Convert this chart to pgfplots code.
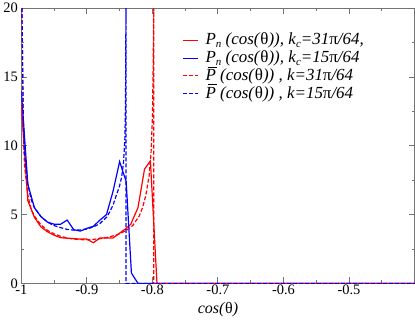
\documentclass[border=0pt]{standalone}
\usepackage{fontspec}
\setmainfont{Liberation Serif}
\usepackage{pgfplots}
\pgfplotsset{compat=1.18}
\newcommand{\sub}[1]{\raisebox{-0.45ex}{\fontsize{11}{11}\selectfont\itshape #1}}
\newcommand{\Pbar}{\makebox[0pt][l]{\hspace{0.14em}\rule[0.76em]{0.52em}{0.06em}}\textit{P}}
\begin{document}
\begin{tikzpicture}
\begin{axis}[
  scale only axis, width=393bp, height=275bp,
  xmin=-1, xmax=-0.4, ymin=0, ymax=20,
  xtick={-1,-0.9,-0.8,-0.7,-0.6,-0.5},
  xticklabels={-1,-0.9,-0.8,-0.7,-0.6,-0.5},
  minor xtick={-0.95,-0.85,-0.75,-0.65,-0.55,-0.45},
  ytick={0,5,10,15,20}, yticklabels={0,5,10,15,20},
  minor ytick={2.5,7.5,12.5,17.5},
  tick align=inside, major tick length=6bp, minor tick length=3bp,
  axis line style={black!55, line width=0.9pt}, tick style={black!55, line width=0.9pt},
  ticklabel style={font=\fontsize{14.5}{14.5}\selectfont},
  xticklabel style={yshift=2bp},
  xlabel={\textit{cos(}θ\textit{)}},
  xlabel style={font=\fontsize{16}{16}\selectfont, yshift=-1bp},
  every axis plot/.append style={line width=1.2pt, forget plot},
]
\addplot[red] coordinates {
(-1,13.0) (-0.99,6.0) (-0.98,4.8) (-0.97,4.1) (-0.96,3.75) (-0.95,3.5) (-0.94,3.32)
(-0.93,3.28) (-0.92,3.25) (-0.91,3.22) (-0.90,3.22) (-0.89,2.95) (-0.88,3.3) (-0.87,3.3)
(-0.86,3.3) (-0.85,3.65) (-0.84,4.0) (-0.833,4.3) (-0.822,5.5) (-0.812,8.3) (-0.803,8.9)
(-0.793,0) (-0.4,0)};
\addplot[blue] coordinates {
(-1,14.0) (-0.99,7.2) (-0.98,5.5) (-0.97,4.85) (-0.96,4.45) (-0.95,4.3) (-0.94,4.3)
(-0.93,4.6) (-0.92,3.9) (-0.91,3.8) (-0.90,4.0) (-0.89,4.15) (-0.88,4.6) (-0.87,5.0)
(-0.86,6.7) (-0.85,8.85) (-0.84,7.4) (-0.832,0.75) (-0.822,0) (-0.4,0)};
\addplot[red, dash pattern=on 4pt off 2pt] coordinates {
(-0.999,20) (-0.997,11) (-0.995,8.5) (-0.99,6.4) (-0.985,5.4) (-0.98,4.9) (-0.97,4.25)
(-0.96,3.85) (-0.95,3.6) (-0.94,3.42) (-0.93,3.3) (-0.92,3.22) (-0.91,3.18) (-0.90,3.17)
(-0.89,3.2) (-0.88,3.25) (-0.87,3.33) (-0.86,3.45) (-0.85,3.6) (-0.84,3.85) (-0.83,4.2)
(-0.82,4.9) (-0.815,5.5) (-0.81,6.4) (-0.805,7.8) (-0.802,9.5) (-0.8,12) (-0.799,15)
(-0.798,20) (-0.798,30) (-0.798,0) (-0.4,0)};
\addplot[blue, dash pattern=on 4pt off 2pt] coordinates {
(-0.9995,30) (-0.999,20) (-0.997,12) (-0.995,9.5) (-0.99,7.2) (-0.985,6.1) (-0.98,5.5)
(-0.97,4.85) (-0.96,4.45) (-0.95,4.2) (-0.94,4.05) (-0.93,3.92) (-0.92,3.87) (-0.91,3.88)
(-0.90,3.95) (-0.89,4.1) (-0.88,4.35) (-0.87,4.8) (-0.865,5.2) (-0.86,5.7) (-0.855,6.4)
(-0.85,7.1) (-0.847,7.7) (-0.844,8.8) (-0.842,10.5) (-0.841,13) (-0.8403,20) (-0.8403,30)
(-0.8403,0) (-0.4,0)};
% legend samples
\addplot[red] coordinates {(-0.7527,17.67) (-0.7298,17.67)};
\addplot[blue] coordinates {(-0.7527,16.36) (-0.7298,16.36)};
\addplot[red, dash pattern=on 4pt off 2pt] coordinates {(-0.7527,15.1) (-0.7298,15.1)};
\addplot[blue, dash pattern=on 4pt off 2pt] coordinates {(-0.7527,13.82) (-0.7298,13.82)};
\begin{scope}[every node/.style={anchor=west, inner sep=0pt, font=\fontsize{17}{17}\selectfont}]
\node at (axis cs:-0.7191,17.67) {\textit{P}\sub{n} \textit{(cos(}θ\textit{)), k}\sub{c}\textit{=31}π\textit{/64,}};
\node at (axis cs:-0.7191,16.36) {\textit{P}\sub{n} \textit{(cos(}θ\textit{)), k}\sub{c}\textit{=15}π\textit{/64}};
\node at (axis cs:-0.7191,15.1) {\Pbar\textit{ (cos(}θ\textit{)) , k=31}π\textit{/64}};
\node at (axis cs:-0.7191,13.82) {\Pbar\textit{ (cos(}θ\textit{)) , k=15}π\textit{/64}};
\end{scope}
\end{axis}
\end{tikzpicture}
\end{document}
